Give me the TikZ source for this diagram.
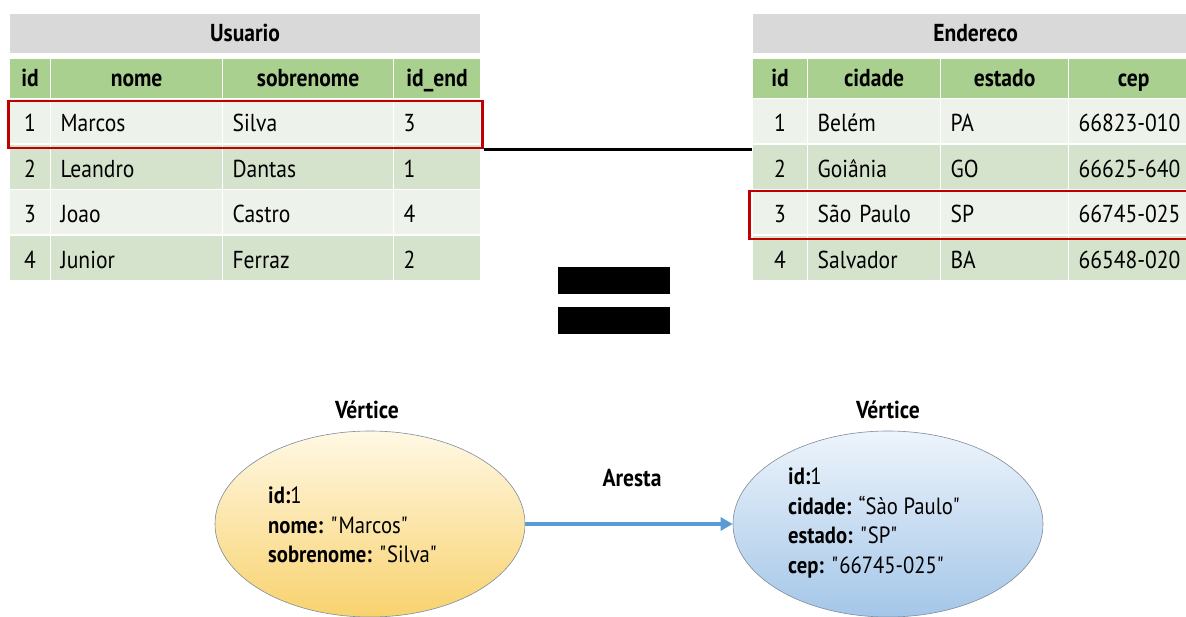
\documentclass[tikz,border=0pt]{standalone}
\usepackage{fontspec}
\setmainfont{PT Sans}[FakeStretch=0.88]
\usepackage{tikz}
\usetikzlibrary{arrows.meta}
\usetikzlibrary{shapes.geometric}

\definecolor{titlegray}{HTML}{D9D9D9}
\definecolor{headgreen}{HTML}{A9D08E}
\definecolor{rowlight}{HTML}{EDF2EA}
\definecolor{rowdark}{HTML}{D5E3CD}
\definecolor{boxred}{HTML}{C00000}
\definecolor{arrowblue}{HTML}{5B9BD5}
\definecolor{vertborder}{HTML}{7F8C9D}
\definecolor{yellowtop}{HTML}{FFF8E4}
\definecolor{yellowbot}{HTML}{F8D26E}
\definecolor{bluetop}{HTML}{EDF4FB}
\definecolor{bluebot}{HTML}{A4C6E8}
\newcommand\tabfont{\fontsize{24.5}{30}\selectfont}
\newcommand\qt{\textquotedbl}

\begin{document}
\begin{tikzpicture}[x=1pt,y=-1pt,
    every node/.style={font=\tabfont, inner sep=0pt},
    cell/.style={draw=white, line width=1.2pt, anchor=north west, inner xsep=10pt, text height=21pt, text depth=0pt},
    headcell/.style={cell, fill=headgreen, minimum height=40pt, font=\tabfont\bfseries, text height=19pt, text depth=3pt},
    hilite/.style={draw=boxred, line width=2.5pt, anchor=north west},
    vertex/.style={ellipse, draw=vertborder, semithick, minimum width=310pt, minimum height=186pt},
    vtext/.style={anchor=west, align=left, font=\fontsize{23.5}{29.5}\selectfont}]
\useasboundingbox (0,0) rectangle (1186,617);

\node[headcell, fill=titlegray, minimum width=471pt] (usuario) at (9,13) {Usuario};
\foreach \x/\w/\t [count=\j] in {9/41/id,50/172/nome,222/171/sobrenome,393/87/id\_end}
    \node[headcell, minimum width=\w pt] (uh-\j) at (\x,58) {\t};
\foreach \n/\a/\b/\c [count=\i] in {1/Marcos/Silva/3,2/Leandro/Dantas/1,3/Joao/Castro/4,4/Junior/Ferraz/2}{
    \pgfmathsetmacro\y{98+45.5*(\i-1)}
    \ifodd\i \def\rc{rowlight}\else \def\rc{rowdark}\fi
    \foreach \x/\w/\al/\t [count=\j] in {9/41/center/\n,50/172/left/\a,222/171/left/\b,393/87/left/\c}{
        \pgfmathsetmacro\tw{\w-20}
        \node[cell, fill=\rc, minimum width=\w pt, minimum height=45.5pt, text width=\tw pt, align=\al] (u-\i-\j) at (\x,\y) {\t};
    }
}

\node[headcell, fill=titlegray, minimum width=446pt] (endereco) at (752,13) {Endereco};
\foreach \x/\w/\t [count=\j] in {752/55/id,807/133/cidade,940/128/estado,1068/130/cep}
    \node[headcell, minimum width=\w pt] (eh-\j) at (\x,58) {\t};
\foreach \n/\a/\b/\c [count=\i] in {1/Belém/PA/66823-010,2/Goiânia/GO/66625-640,3/São Paulo/SP/66745-025,4/Salvador/BA/66548-020}{
    \pgfmathsetmacro\y{98+45.5*(\i-1)}
    \ifodd\i \def\rc{rowlight}\else \def\rc{rowdark}\fi
    \foreach \x/\w/\al/\t [count=\j] in {752/55/center/\n,807/133/left/\a,940/128/left/\b,1068/130/left/\c}{
        \pgfmathsetmacro\tw{\w-20}
        \node[cell, fill=\rc, minimum width=\w pt, minimum height=45.5pt, text width=\tw pt, align=\al] (e-\i-\j) at (\x,\y) {\t};
    }
}

\node[hilite, minimum width=474pt, minimum height=47pt] (usrbox) at (7,100) {};
\node[hilite, minimum width=446pt, minimum height=48pt] (endbox) at (748,190) {};
\draw[line width=3pt] (usrbox.south east) -- (usrbox.south east -| endereco.west);

\node[fill=black, minimum width=112pt, minimum height=27pt] (eqtop) at (614,281) {};
\node[fill=black, minimum width=112pt, minimum height=27pt] (eqbot) at (614,321) {};

\node[font=\tabfont\bfseries] (usrlabel) at (367,410) {Vértice};
\node[font=\tabfont\bfseries] (endlabel) at (888,410) {Vértice};
\node[vertex, top color=yellowtop, bottom color=yellowbot] (usrv) at (370,524) {};
\node[vertex, top color=bluetop, bottom color=bluebot] (endv) at (888,524) {};
\node[vtext] (usrtxt) at (268,525) {\textbf{id:}1\\\textbf{nome:} \qt Marcos\qt\\\textbf{sobrenome:} \qt Silva\qt};
\node[vtext] (endtxt) at (788,523) {\textbf{id:}1\\\textbf{cidade:} “Sào Paulo\qt\\\textbf{estado:} \qt SP\qt\\\textbf{cep:} \qt 66745-025\qt};
\draw[arrowblue, line width=4pt, -{Triangle[length=12pt,width=13pt]}] (usrv.east) -- (endv.west);
\node[font=\tabfont\bfseries] (aresta) at (632,478) {Aresta};
\end{tikzpicture}
\end{document}
